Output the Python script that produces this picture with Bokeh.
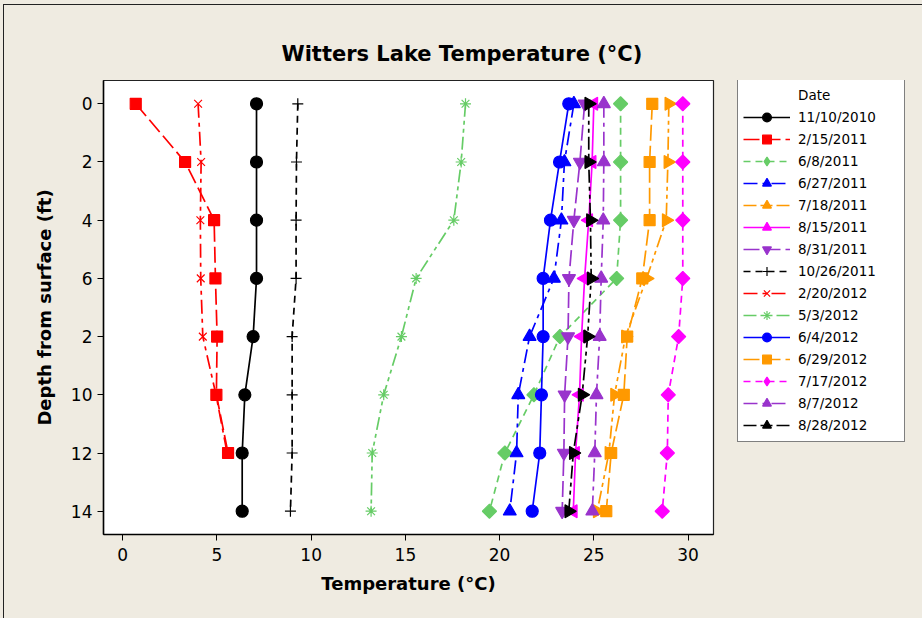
import math
from bokeh.plotting import figure
from bokeh.layouts import row
from bokeh.models import Range1d, FixedTicker, Legend, LegendItem, ColumnDataSource
from bokeh.embed import file_html
from bokeh.resources import INLINE

# ---------------- data ----------------
depth = [0, 2, 4, 6, 8, 10, 12, 14]
depth_tick_labels = ["0", "2", "4", "6", "2", "10", "12", "14"]
temp_ticks = [0, 5, 10, 15, 20, 25, 30]

dates = ["11/10/2010", "2/15/2011", "6/8/2011", "6/27/2011", "7/18/2011",
         "8/15/2011", "8/31/2011", "10/26/2011", "2/20/2012", "5/3/2012",
         "6/4/2012", "6/29/2012", "7/17/2012", "8/7/2012", "8/28/2012"]

t_2010_11_10 = [7.10, 7.10, 7.10, 7.10, 6.92, 6.48, 6.34, 6.34]
t_2011_02_15 = [0.69, 3.31, 4.85, 4.92, 5.01, 4.97, 5.59]
t_2011_06_08 = [26.42, 26.42, 26.42, 26.21, 23.20, 21.82, 20.28, 19.46]
t_2011_06_27 = [23.94, 23.44, 23.28, 22.88, 21.59, 20.99, 20.90, 20.54]
t_2011_07_18 = [28.98, 28.93, 28.84, 27.80, 26.68, 26.10, 25.80, 25.18]
t_2011_08_15 = [25.00, 24.91, 24.73, 24.51, 24.35, 24.24, 24.03, 23.91]
t_2011_08_31 = [24.51, 24.26, 23.94, 23.68, 23.63, 23.45, 23.41, 23.32]
t_2011_10_26 = [9.29, 9.22, 9.20, 9.20, 8.99, 8.99, 8.99, 8.90]
t_2012_02_20 = [4.00, 4.16, 4.12, 4.14, 4.25, 4.95, 5.54]
t_2012_05_03 = [18.19, 17.96, 17.57, 15.57, 14.79, 13.85, 13.24, 13.18]
t_2012_06_04 = [23.67, 23.18, 22.70, 22.31, 22.31, 22.22, 22.13, 21.73]
t_2012_06_29 = [28.10, 27.96, 27.96, 27.57, 26.77, 26.59, 25.92, 25.66]
t_2012_07_17 = [29.72, 29.72, 29.72, 29.72, 29.50, 28.95, 28.90, 28.63]
t_2012_08_07 = [25.53, 25.53, 25.50, 25.39, 25.31, 25.14, 25.05, 24.92]
t_2012_08_28 = [24.73, 24.73, 24.82, 24.86, 24.67, 24.38, 23.91, 23.67]

series = [t_2010_11_10, t_2011_02_15, t_2011_06_08, t_2011_06_27, t_2011_07_18,
          t_2011_08_15, t_2011_08_31, t_2011_10_26, t_2012_02_20, t_2012_05_03,
          t_2012_06_04, t_2012_06_29, t_2012_07_17, t_2012_08_07, t_2012_08_28]

# ---------------- styles ----------------
BLACK, RED, GREEN, BLUE = "#000000", "#FF0000", "#66CC66", "#0000FF"
ORANGE, MAGENTA, PURPLE = "#FF9900", "#FF00FF", "#9933CC"
SOLID, LONG, DASH, DASHDOT, DASHDOTDOT = "solid", "16 5", "7 5", "14 5 4 5", "13 4 4 4 4 4"

# marker: plot marker; lmarker: marker drawn in the legend
styles = [
    dict(color=BLACK,   marker="circle",            angle=0.0,          lmarker="circle",            dash=SOLID,      size=12),
    dict(color=RED,     marker="square",            angle=0.0,          lmarker="square",            dash=LONG,       size=11),
    dict(color=GREEN,   marker="square",            angle=math.pi / 4,  lmarker="diamond",           dash=DASH,       size=10),
    dict(color=BLUE,    marker="triangle",          angle=0.0,          lmarker="triangle",          dash=DASHDOT,    size=13),
    dict(color=ORANGE,  marker="triangle",          angle=-math.pi / 2, lmarker="triangle",          dash=DASHDOTDOT, size=13),
    dict(color=MAGENTA, marker="triangle",          angle=math.pi / 2,  lmarker="triangle",          dash=SOLID,      size=13),
    dict(color=PURPLE,  marker="inverted_triangle", angle=0.0,          lmarker="inverted_triangle", dash=LONG,       size=13),
    dict(color=BLACK,   marker="cross",             angle=0.0,          lmarker="cross",             dash=DASH,       size=11),
    dict(color=RED,     marker="x",                 angle=0.0,          lmarker="x",                 dash=DASHDOT,    size=11),
    dict(color=GREEN,   marker="asterisk",          angle=0.0,          lmarker="asterisk",          dash=DASHDOTDOT, size=11),
    dict(color=BLUE,    marker="circle",            angle=0.0,          lmarker="circle",            dash=SOLID,      size=12),
    dict(color=ORANGE,  marker="square",            angle=0.0,          lmarker="square",            dash=LONG,       size=11),
    dict(color=MAGENTA, marker="square",            angle=math.pi / 4,  lmarker="diamond",           dash=DASH,       size=10),
    dict(color=PURPLE,  marker="triangle",          angle=0.0,          lmarker="triangle",          dash=DASHDOT,    size=13),
    dict(color=BLACK,   marker="triangle",          angle=-math.pi / 2, lmarker="triangle",          dash=DASHDOTDOT, size=13),
]

BG = "#EFEBE1"
FONT = "DejaVu Sans"

# ---------------- main plot ----------------
p = figure(width=723, height=618,
           x_range=Range1d(-1.02, 31.35), y_range=Range1d(14.8, -0.8),
           output_backend="svg", toolbar_location=None,
           min_border_left=103, min_border_right=10, min_border_top=80, min_border_bottom=84,
           background_fill_color="white", border_fill_color=BG)

p.title.text = "Witters Lake Temperature (°C)"
p.title.align = "left"
p.title.offset = 178
p.title.standoff = 29
p.title.text_font = FONT
p.title.text_font_size = "21px"
p.title.text_font_style = "bold"
p.title.text_color = "black"

p.xgrid.visible = False
p.ygrid.visible = False
p.outline_line_color = "#222222"
p.outline_line_width = 1.2

for ax in (p.xaxis[0], p.yaxis[0]):
    ax.axis_line_color = "black"
    ax.axis_line_width = 1.5
    ax.major_tick_line_color = "black"
    ax.major_tick_out = 6
    ax.major_tick_in = 0
    ax.minor_tick_line_color = None
    ax.major_label_text_font = FONT
    ax.major_label_text_font_size = "17px"
    ax.major_label_text_color = "black"
    ax.axis_label_text_font = FONT
    ax.axis_label_text_font_size = "18px"
    ax.axis_label_text_font_style = "bold"
    ax.axis_label_text_color = "black"

p.xaxis.ticker = FixedTicker(ticks=temp_ticks)
p.xaxis.axis_label = "Temperature (°C)"
p.xaxis.major_label_standoff = 7
p.xaxis.axis_label_standoff = 9

p.yaxis.ticker = FixedTicker(ticks=depth)
p.yaxis.major_label_overrides = {d: lab for d, lab in zip(depth, depth_tick_labels)}
p.yaxis.axis_label = "Depth from surface (ft)"
p.yaxis.major_label_standoff = 5
p.yaxis.axis_label_standoff = 13

sources = []
for temps, st in zip(series, styles):
    src = ColumnDataSource(dict(t=temps, d=depth[:len(temps)]))
    sources.append(src)
    p.line("t", "d", source=src, line_color=st["color"], line_width=1.7,
           line_dash=st["dash"])
    p.scatter("t", "d", source=src, marker=st["marker"], size=st["size"],
              angle=st["angle"], fill_color=st["color"], line_color=st["color"],
              line_width=1.2)

# ---------------- legend panel ----------------
lf = figure(width=199, height=618, x_range=Range1d(0, 1), y_range=Range1d(0, 1),
            output_backend="svg", toolbar_location=None,
            x_axis_location=None, y_axis_location=None, min_border=0,
            outline_line_color=None, background_fill_color=BG, border_fill_color=BG)
lf.xgrid.visible = False
lf.ygrid.visible = False

header = lf.line(x=[], y=[], line_alpha=0)
items = [LegendItem(label="Date", renderers=[header])]
for label, src, st in zip(dates, sources, styles):
    # same data, hidden here: these renderers only provide the legend samples
    ln = lf.line("t", "d", source=src, line_color=st["color"], line_width=1.7,
                 line_dash=st["dash"], visible=False)
    mk = lf.scatter("t", "d", source=src, marker=st["lmarker"], fill_color=st["color"],
                    line_color=st["color"], line_width=1.2, visible=False)
    items.append(LegendItem(label=label, renderers=[ln, mk]))

legend = Legend(items=items, location=(14, 92), margin=0, padding=5,
                glyph_width=47, glyph_height=22, spacing=0, label_standoff=8,
                label_width=101, label_height=20,
                label_text_font=FONT, label_text_font_size="13.5px",
                label_text_color="black",
                border_line_color="black", border_line_width=1,
                background_fill_color="white", background_fill_alpha=1.0)
lf.add_layout(legend, "center")

layout = row(p, lf)

html = file_html(layout, INLINE)
css = ("<style>html, body { background: #EFEBE1; } "
       "body::after { content: ''; position: fixed; left: 3px; top: 4px; "
       "right: -20px; bottom: -20px; border: 1.5px solid #222; "
       "pointer-events: none; z-index: 10; }</style>")
html = html.replace("<head>", "<head>" + css, 1)
open("out.html", "w").write(html)
